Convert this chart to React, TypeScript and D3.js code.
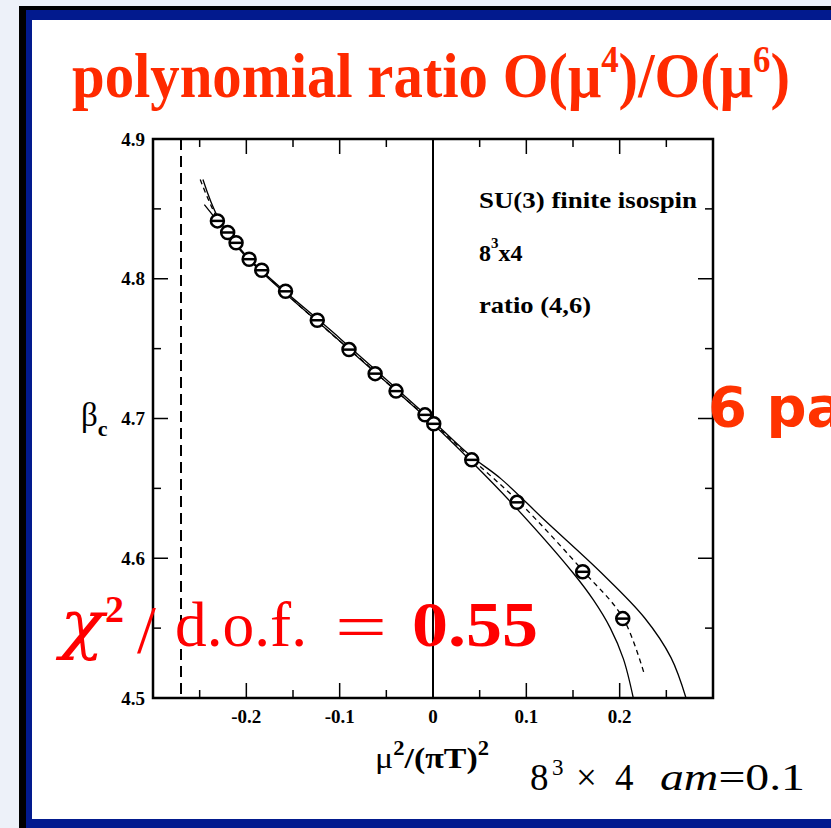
import React from 'react';
import * as d3 from 'd3';

const W = 831;
const H = 828;

// measured points: mu^2/(pi T)^2 vs beta_c
const muSq = [-0.231, -0.220, -0.211, -0.197, -0.1835, -0.158, -0.124, -0.090, -0.062, -0.0396, -0.0086, 0.0008, 0.0415, 0.090, 0.1604, 0.2033];
const betaC = [4.8414, 4.8331, 4.8257, 4.814, 4.8061, 4.791, 4.7703, 4.7493, 4.7321, 4.7196, 4.7026, 4.6962, 4.6704, 4.640, 4.5903, 4.5568];

// ratio (4,6) fit, central curve (dashed)
const fitMu = [-0.2494, -0.23, -0.2, -0.16, -0.12, -0.08, -0.04, 0, 0.04, 0.0925, 0.1621, 0.2033, 0.2264];
const fitBeta = [4.871, 4.842, 4.816, 4.791, 4.767, 4.744, 4.720, 4.697, 4.672, 4.640, 4.590, 4.5576, 4.517];

// error band, upper and lower edges
const upMu = [-0.2465, -0.23, -0.2, -0.1, 0, 0.04, 0.0729, 0.12, 0.18, 0.2264, 0.255, 0.2711];
const upBeta = [4.871, 4.8435, 4.8165, 4.7575, 4.698, 4.6735, 4.6568, 4.627, 4.5898, 4.5576, 4.5289, 4.5];
const loMu = [-0.245, -0.23, -0.2, -0.1, 0, 0.04, 0.0836, 0.1497, 0.172, 0.190, 0.204, 0.2146];
const loBeta = [4.853, 4.8405, 4.8155, 4.7555, 4.696, 4.670, 4.640, 4.5898, 4.570, 4.550, 4.528, 4.5];

const xTicks = [-0.2, -0.1, 0, 0.1, 0.2];
const xTickLabels = ['-0.2', '-0.1', '0', '0.1', '0.2'];
const yTicks = [4.5, 4.6, 4.7, 4.8, 4.9];
const yTickLabels = ['4.5', '4.6', '4.7', '4.8', '4.9'];
const criticalMu = -0.27;

const serif = '"Liberation Serif", "Times New Roman", serif';

export default function App() {
  const plot = { left: 153, right: 713, top: 139, bottom: 698 };
  const x = d3.scaleLinear().domain([-0.3, 0.3]).range([plot.left, plot.right]);
  const y = d3.scaleLinear().domain([4.5, 4.9]).range([plot.bottom, plot.top]);

  const line = d3.line<[number, number]>()
    .x(d => x(d[0]))
    .y(d => y(d[1]))
    .curve(d3.curveCatmullRom.alpha(0.5));

  const isMajor = (v: number, majors: number[]) => majors.some(m => Math.abs(m - v) < 1e-6);
  const xMinor = x.ticks(12).filter(v => v > -0.299 && v < 0.299);
  const yMinor = y.ticks(8).filter(v => v > 4.501 && v < 4.899);

  return (
    <div style={{ position: 'fixed', left: 0, top: 0 }}>
      <svg width={W} height={H} style={{ display: 'block' }}>
        {/* slide frame */}
        <rect x={0} y={0} width={W} height={H} fill="#edf1f9" />
        <rect x={19} y={6} width={W - 19} height={H - 6} fill="#000" />
        <rect x={26} y={10} width={W - 26} height={H - 10} fill="#021a8e" />
        <rect x={32} y={20} width={W - 32} height={799} fill="#fff" />

        <text x={72} y={97} fontFamily={serif} fontWeight="bold" fontSize={64} fill="#ff2a00"
          textLength={718} lengthAdjust="spacingAndGlyphs">
          polynomial ratio O(μ<tspan dy={-25} fontSize={38}>4</tspan><tspan dy={25}>)/O(μ</tspan><tspan dy={-25} fontSize={38}>6</tspan><tspan dy={25}>)</tspan>
        </text>

        {/* ticks */}
        <g stroke="#000" strokeWidth={1.5}>
          {xMinor.map((v, i) => {
            const len = isMajor(v, xTicks) ? 15 : 8;
            return (
              <g key={'xt' + i}>
                <line x1={x(v)} x2={x(v)} y1={plot.bottom} y2={plot.bottom - len} />
                <line x1={x(v)} x2={x(v)} y1={plot.top} y2={plot.top + len} />
              </g>
            );
          })}
          {yMinor.map((v, i) => {
            const len = isMajor(v, yTicks) ? 15 : 8;
            return (
              <g key={'yt' + i}>
                <line x1={plot.left} x2={plot.left + len} y1={y(v)} y2={y(v)} />
                <line x1={plot.right} x2={plot.right - len} y1={y(v)} y2={y(v)} />
              </g>
            );
          })}
        </g>

        {/* zero line and critical line */}
        <line x1={x(0)} x2={x(0)} y1={plot.top} y2={plot.bottom} stroke="#000" strokeWidth={2} />
        <line x1={x(criticalMu)} x2={x(criticalMu)} y1={plot.top} y2={plot.bottom} stroke="#000"
          strokeWidth={2} strokeDasharray="11,6" />

        {/* fit band and central fit */}
        <path d={line(d3.zip(upMu, upBeta) as [number, number][]) || ''} fill="none" stroke="#000" strokeWidth={1.3} />
        <path d={line(d3.zip(loMu, loBeta) as [number, number][]) || ''} fill="none" stroke="#000" strokeWidth={1.3} />
        <path d={line(d3.zip(fitMu, fitBeta) as [number, number][]) || ''} fill="none" stroke="#000" strokeWidth={1.3}
          strokeDasharray="5,4" />

        {/* data points */}
        {muSq.map((m, i) => (
          <g key={'p' + i} stroke="#000" strokeWidth={2.5}>
            <circle cx={x(m)} cy={y(betaC[i])} r={6.5} fill="#fff" />
            <line x1={x(m) - 6.5} x2={x(m) + 6.5} y1={y(betaC[i])} y2={y(betaC[i])} />
          </g>
        ))}

        {/* frame */}
        <rect x={plot.left} y={plot.top} width={plot.right - plot.left} height={plot.bottom - plot.top}
          fill="none" stroke="#000" strokeWidth={2.5} />

        {/* tick labels */}
        {xTicks.map((v, i) => (
          <text key={'xl' + i} x={x(v)} y={723} textAnchor="middle" fontFamily={serif} fontWeight="bold" fontSize={19}>
            {xTickLabels[i]}
          </text>
        ))}
        {yTicks.map((v, i) => (
          <text key={'yl' + i} x={145} y={y(v) + 6.5} textAnchor="end" fontFamily={serif} fontWeight="bold" fontSize={19}>
            {yTickLabels[i]}
          </text>
        ))}

        {/* axis titles */}
        <text x={81} y={426} fontFamily={serif} fontSize={33}>β<tspan fontWeight="bold" fontSize={22} dy={10}>c</tspan></text>
        <text x={375} y={768} fontFamily={serif} fontSize={30} textLength={114} lengthAdjust="spacingAndGlyphs">
          μ<tspan fontWeight="bold" fontSize={20} dy={-13}>2</tspan><tspan dy={13} fontWeight="bold">/(πT)</tspan><tspan fontWeight="bold" fontSize={20} dy={-13}>2</tspan>
        </text>

        {/* legend text */}
        <g fontFamily={serif} fontWeight="bold" fontSize={24}>
          <text x={479} y={208} textLength={218} lengthAdjust="spacingAndGlyphs">SU(3) finite isospin</text>
          <text x={479} y={261}>8<tspan fontSize={15} dy={-13}>3</tspan><tspan dy={13}>x4</tspan></text>
          <text x={479} y={313} textLength={112} lengthAdjust="spacingAndGlyphs">ratio (4,6)</text>
        </g>

        {/* chi^2 annotation */}
        <g fill="#ff0000" fontFamily={serif}>
          <text x={60} y={646} fontSize={66} fontStyle="italic" fontFamily='"DejaVu Serif", serif'
            textLength={44} lengthAdjust="spacingAndGlyphs">χ</text>
          <text x={105} y={622} fontSize={38} fontWeight="bold">2</text>
          <text x={137} y={652} fontSize={68}>/</text>
          <text x={175} y={646} fontSize={64} textLength={132} lengthAdjust="spacingAndGlyphs">d.o.f.</text>
          <text x={335} y={648} fontSize={64} textLength={52} lengthAdjust="spacingAndGlyphs">=</text>
          <text x={412} y={646} fontSize={64} fontWeight="bold" textLength={126} lengthAdjust="spacingAndGlyphs">0.55</text>
        </g>

        <text x={708} y={426} fontFamily='"Comic Sans MS", "DejaVu Sans", sans-serif' fontWeight="bold" fontSize={56}
          fill="#ff3300">6 pa</text>

        {/* lattice label */}
        <text y={790} fontFamily={serif} fontSize={37}>
          <tspan x={530}>8</tspan>
          <tspan x={552} dy={-15} fontSize={23}>3</tspan>
          <tspan x={576} dy={15}>×</tspan>
          <tspan x={615}>4</tspan>
        </text>
        <text x={660} y={790} fontFamily={serif} fontSize={37} textLength={145} lengthAdjust="spacingAndGlyphs">
          <tspan fontStyle="italic">am</tspan>=0.1
        </text>
      </svg>
    </div>
  );
}
